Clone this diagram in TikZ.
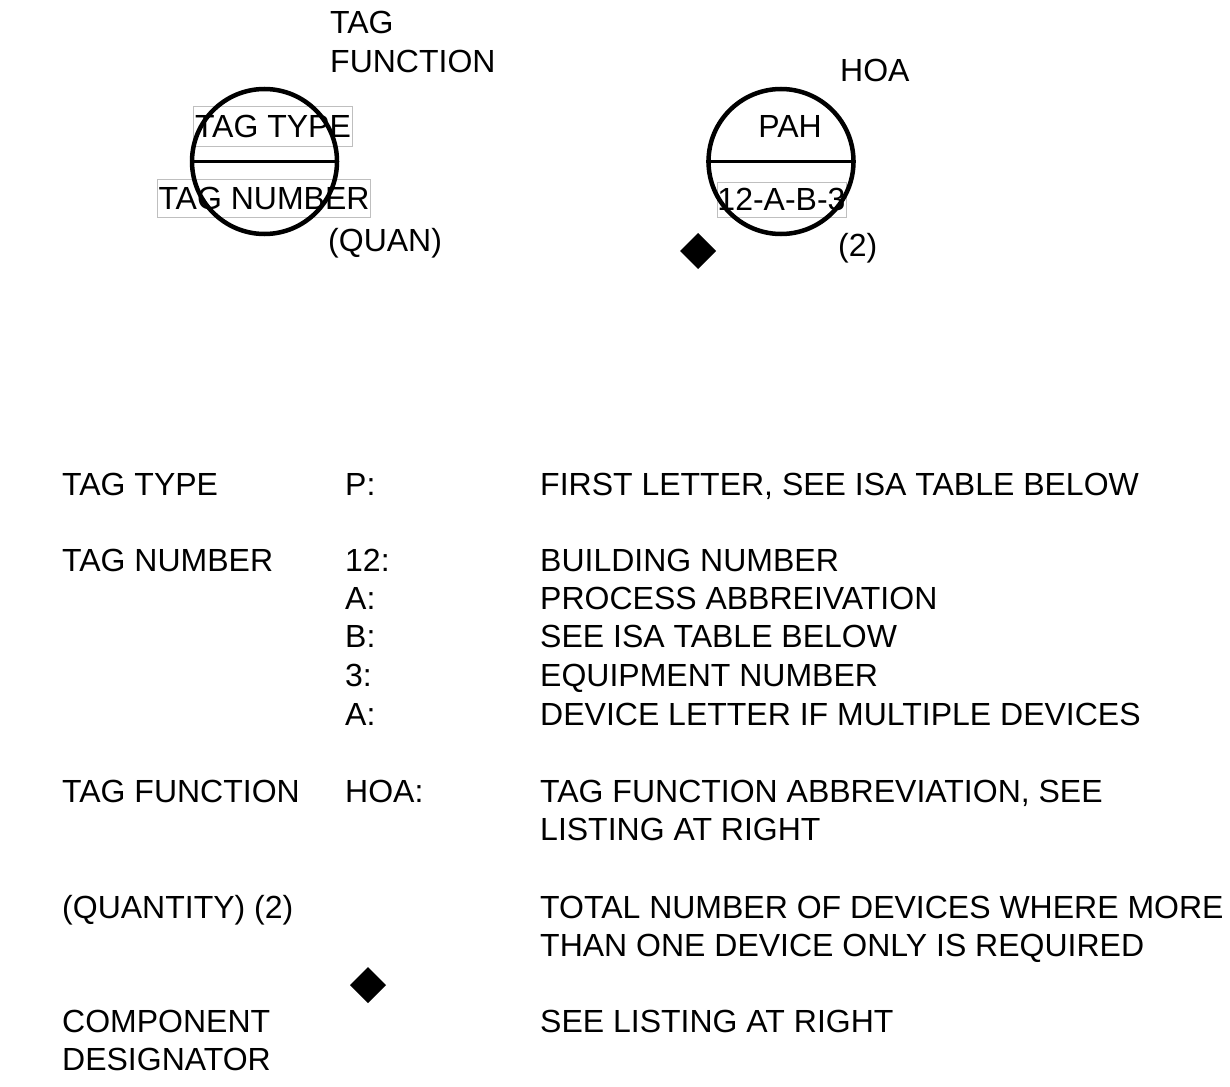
\documentclass[tikz,border=0pt]{standalone}
\usepackage{fontspec}
\setmainfont{Liberation Sans}
\begin{document}
\begin{tikzpicture}[x=1pt,y=-1pt,
  txt/.style={font=\fontsize{32}{38}\selectfont, inner sep=0pt, anchor=west, text depth=0pt},
  ctxt/.style={font=\fontsize{32}{38}\selectfont, inner sep=0pt, anchor=center},
  tbox/.style={draw=black!25, line width=0.8pt, font=\fontsize{32}{38}\selectfont, inner sep=0pt, anchor=center},
  bubble/.style={circle, draw=black, line width=4.5pt, minimum size=145, inner sep=0pt},
  dmd/.style={fill=black}
]
\useasboundingbox (0,0) rectangle (1230,1086);
% left bubble
\node[tbox, minimum width=159, minimum height=40] (tt) at (273,126) {TAG TYPE};
\node[tbox, minimum width=213, minimum height=38] (tn) at (264,198) {TAG NUMBER};
\node[bubble] (c1) at (264.5,161.5) {};
\draw[line width=3pt] (c1.west) -- (c1.east);
\node[txt] (tf1) at (330,22) {TAG};
\node[txt] (tf2) at (330,61) {FUNCTION};
\node[txt] (quan) at (328,240) {(QUAN)};
% right bubble
\node[tbox, minimum width=129, minimum height=35] (num) at (781.5,199.5) {12-A-B-3};
\node[ctxt] (pah) at (790,126) {PAH};
\node[bubble] (c2) at (781,161.5) {};
\draw[line width=3pt] (c2.west) -- (c2.east);
\node[txt] (hoa) at (840,70) {HOA};
\node[txt] (two) at (838,245) {(2)};
\fill[dmd] (698,233) -- (716,251) -- (698,269) -- (680,251) -- cycle;
\coordinate (d1) at (698,251);
% table
\node[txt] (r1a) at (62,484) {TAG TYPE};
\node[txt] (r1b) at (345,484) {P:};
\node[txt] (r1c) at (540,484) {FIRST LETTER, SEE ISA TABLE BELOW};
\node[txt] (r2a) at (62,560) {TAG NUMBER};
\node[txt] (r2b) at (345,560) {12:};
\node[txt] (r2c) at (540,560) {BUILDING NUMBER};
\node[txt] (r3b) at (345,598) {A:};
\node[txt] (r3c) at (540,598) {PROCESS ABBREIVATION};
\node[txt] (r4b) at (345,636) {B:};
\node[txt] (r4c) at (540,636) {SEE ISA TABLE BELOW};
\node[txt] (r5b) at (345,675) {3:};
\node[txt] (r5c) at (540,675) {EQUIPMENT NUMBER};
\node[txt] (r6b) at (345,714) {A:};
\node[txt] (r6c) at (540,714) {DEVICE LETTER IF MULTIPLE DEVICES};
\node[txt] (r7a) at (62,791) {TAG FUNCTION};
\node[txt] (r7b) at (345,791) {HOA:};
\node[txt] (r7c) at (540,791) {TAG FUNCTION ABBREVIATION, SEE};
\node[txt] (r7d) at (540,829) {LISTING AT RIGHT};
\node[txt] (r8a) at (62,907) {(QUANTITY) (2)};
\node[txt] (r8c) at (540,907) {TOTAL NUMBER OF DEVICES WHERE MORE};
\node[txt] (r8d) at (540,945) {THAN ONE DEVICE ONLY IS REQUIRED};
\fill[dmd] (368,967) -- (386,985) -- (368,1003) -- (350,985) -- cycle;
\coordinate (d2) at (368,985);
\node[txt] (r9a) at (62,1021) {COMPONENT};
\node[txt] (r9b) at (62,1059) {DESIGNATOR};
\node[txt] (r9c) at (540,1021) {SEE LISTING AT RIGHT};
\end{tikzpicture}
\end{document}
